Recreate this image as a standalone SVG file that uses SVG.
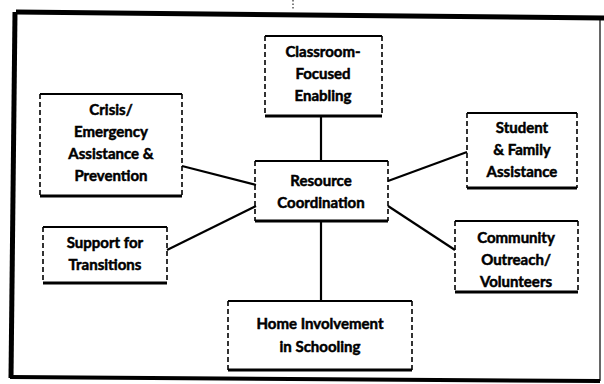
<svg xmlns="http://www.w3.org/2000/svg" width="604" height="384" viewBox="0 0 604 384">
  <style>
    .lbl { font-family: "Lato", "Open Sans", "Liberation Sans", sans-serif; font-weight: bold; font-size: 15px; fill: #000; stroke: #000; stroke-width: 0.5; text-anchor: middle; }
    .edge-top { fill: none; stroke: #000; stroke-width: 2; }
    .edge-bot { fill: none; stroke: #000; stroke-width: 3; }
    .side { fill: none; stroke: #000; stroke-width: 1.6; stroke-dasharray: 5 3; }
    .conn { fill: none; stroke: #000; stroke-width: 2.2; }
  </style>
  <rect width="604" height="384" fill="#fff"/>

  <!-- outer frame, slightly skewed -->
  <path d="M16,12 L604,18" stroke="#000" stroke-width="5" fill="none"/>
  <path d="M15,12 L11,378" stroke="#000" stroke-width="5" fill="none"/>
  <path d="M10,377 L600,381" stroke="#000" stroke-width="4" fill="none"/>
  <path d="M600,20 L600,381" stroke="#000" stroke-width="1.2" fill="none"/>
  <path d="M293,0 L293,9" stroke="#000" stroke-width="1" stroke-dasharray="1.5 2" fill="none"/>

  <g id="connectors">
    <line class="conn" x1="321" y1="116" x2="321" y2="161"/>
    <line class="conn" x1="182" y1="166" x2="256" y2="185"/>
    <line class="conn" x1="388" y1="181" x2="467" y2="152"/>
    <line class="conn" x1="167" y1="250" x2="256" y2="206"/>
    <line class="conn" x1="388" y1="206" x2="455" y2="250"/>
    <line class="conn" x1="321" y1="221" x2="321" y2="300"/>
  </g>

  <g id="classroom">
    <path class="edge-top" d="M265,36 L382,36"/>
    <path class="edge-bot" d="M265,116 L382,116"/>
    <path class="side" d="M265,36 L265,116 M382,36 L382,116"/>
    <text class="lbl" x="323" y="57">Classroom-</text>
    <text class="lbl" x="323" y="79">Focused</text>
    <text class="lbl" x="323" y="101">Enabling</text>
  </g>

  <g id="resource">
    <path class="edge-top" d="M255,161 L388,161"/>
    <path class="edge-bot" d="M255,221 L388,221"/>
    <path class="side" d="M255,161 L255,221 M388,161 L388,221"/>
    <text class="lbl" x="321" y="186">Resource</text>
    <text class="lbl" x="321" y="208">Coordination</text>
  </g>

  <g id="crisis">
    <path class="edge-top" d="M40,94 L182,94"/>
    <path class="edge-bot" d="M40,196 L182,196"/>
    <path class="side" d="M40,94 L40,196 M182,94 L182,196"/>
    <text class="lbl" x="111" y="115">Crisis/</text>
    <text class="lbl" x="111" y="137">Emergency</text>
    <text class="lbl" x="111" y="159">Assistance &amp;</text>
    <text class="lbl" x="111" y="181">Prevention</text>
  </g>

  <g id="student">
    <path class="edge-top" d="M467,113 L577,113"/>
    <path class="edge-bot" d="M467,188 L577,188"/>
    <path class="side" d="M467,113 L467,188 M577,113 L577,188"/>
    <text class="lbl" x="522" y="133">Student</text>
    <text class="lbl" x="522" y="155">&amp; Family</text>
    <text class="lbl" x="522" y="177">Assistance</text>
  </g>

  <g id="support">
    <path class="edge-top" d="M43,227 L167,227"/>
    <path class="edge-bot" d="M43,283 L167,283"/>
    <path class="side" d="M43,227 L43,283 M167,227 L167,283"/>
    <text class="lbl" x="105" y="248">Support for</text>
    <text class="lbl" x="105" y="270">Transitions</text>
  </g>

  <g id="community">
    <path class="edge-top" d="M455,221 L578,221"/>
    <path class="edge-bot" d="M455,292 L578,292"/>
    <path class="side" d="M455,221 L455,292 M578,221 L578,292"/>
    <text class="lbl" x="516" y="243">Community</text>
    <text class="lbl" x="516" y="265">Outreach/</text>
    <text class="lbl" x="516" y="287">Volunteers</text>
  </g>

  <g id="home">
    <path class="edge-top" d="M228,301 L412,301"/>
    <path class="edge-bot" d="M228,370 L412,370"/>
    <path class="side" d="M228,301 L228,370 M412,301 L412,370"/>
    <text class="lbl" x="320" y="329">Home Involvement</text>
    <text class="lbl" x="320" y="352">in Schooling</text>
  </g>
</svg>
